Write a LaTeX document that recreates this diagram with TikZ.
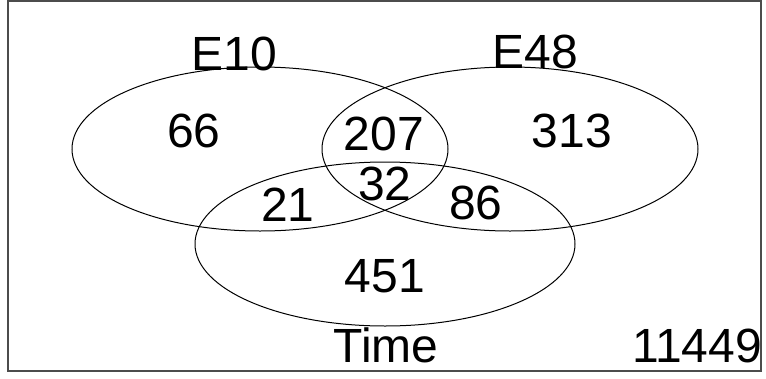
\documentclass[tikz,border=0pt]{standalone}
\usepackage{fontspec}
\setmainfont{Liberation Sans}
\begin{document}
\begin{tikzpicture}[x=1pt,y=-1pt,
  setline/.style={draw=black,line width=1pt},
  lbl/.style={anchor=base,inner sep=0pt,font=\fontsize{48}{52}\selectfont}]
\useasboundingbox (0,0) rectangle (766,378);
% frame
\node[draw=black!70,line width=1.6pt,inner sep=0pt,minimum width=753pt,minimum height=370pt] (frame) at (384.5,186) {};
% sets
\draw[setline] (260,149) ellipse [x radius=188, y radius=82];
\draw[setline] (510,149) ellipse [x radius=188, y radius=82];
\draw[setline] (385,244) ellipse [x radius=190, y radius=82];
% set names
\node[lbl] (e10) at (234,70) {E10};
\node[lbl] (e48) at (535,68) {E48};
\node[lbl] (time) at (386,362) {Time};
% region counts
\node[lbl] (a) at (194,147) {66};
\node[lbl] (ab) at (384,150) {207};
\node[lbl] (b) at (572,147) {313};
\node[lbl] (ac) at (288,221) {21};
\node[lbl] (abc) at (385,200) {32};
\node[lbl] (bc) at (476,219) {86};
\node[lbl] (c) at (385,292) {451};
\node[lbl] (none) at (697,362) {11449};
\end{tikzpicture}
\end{document}
